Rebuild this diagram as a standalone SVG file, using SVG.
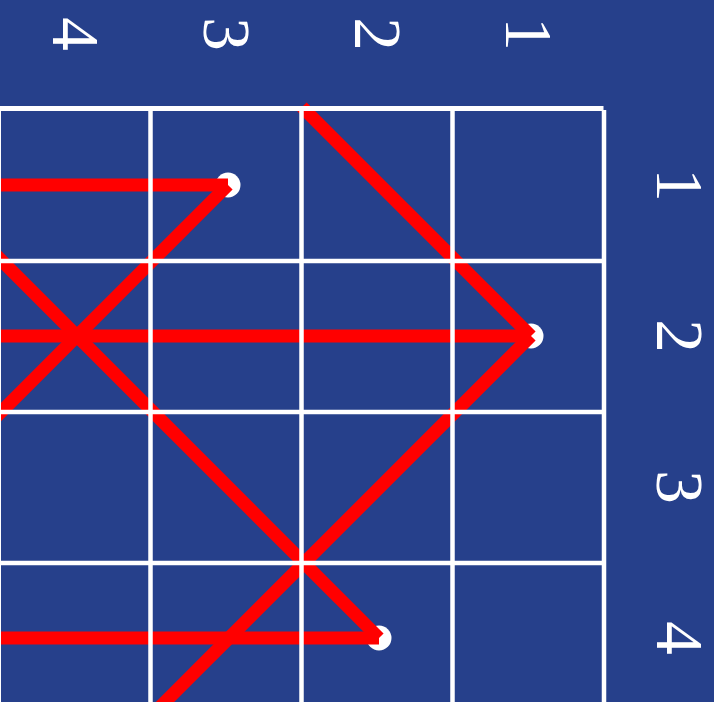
<svg xmlns="http://www.w3.org/2000/svg" width="714" height="702" viewBox="0 0 714 702">
  <style>
    .bg { fill: #26408b; }
    .dot { fill: #ffffff; }
    .edge { stroke: #ff0000; stroke-width: 13; stroke-linecap: butt; fill: none; }
    .grid { stroke: #ffffff; stroke-width: 4.5; fill: none; }
    .lbl { font-size: 67px; fill: #ffffff; text-anchor: middle; }
  </style>
  <rect class="bg" x="0" y="0" width="714" height="702"/>

  <g id="nodes">
    <g id="n1"><circle class="dot" cx="228" cy="185" r="12.5"/></g>
    <g id="n2"><circle class="dot" cx="531" cy="336" r="12.5"/></g>
    <g id="n3"><circle class="dot" cx="379" cy="638" r="12.5"/></g>
  </g>

  <g id="connectors">
    <line class="edge" x1="0" y1="185" x2="228" y2="185"/>
    <line class="edge" x1="228" y1="185" x2="-10" y2="423"/>
    <line class="edge" x1="0" y1="336" x2="531" y2="336"/>
    <line class="edge" x1="531" y1="336" x2="302" y2="107"/>
    <line class="edge" x1="531" y1="336" x2="150" y2="717"/>
    <line class="edge" x1="-10" y1="249" x2="379" y2="638"/>
    <line class="edge" x1="0" y1="638" x2="379" y2="638"/>
  </g>

  <g id="grid">
    <line class="grid" x1="-2" y1="108.5" x2="603.5" y2="108.5" style="stroke-width:5"/>
    <line class="grid" x1="0" y1="261" x2="604" y2="261"/>
    <line class="grid" x1="0" y1="412" x2="604" y2="412"/>
    <line class="grid" x1="0" y1="563" x2="604" y2="563"/>
    <line class="grid" x1="0" y1="110" x2="0" y2="702" style="stroke-width:2"/>
    <line class="grid" x1="150.5" y1="110" x2="150.5" y2="702"/>
    <line class="grid" x1="301.5" y1="110" x2="301.5" y2="702"/>
    <line class="grid" x1="452.5" y1="110" x2="452.5" y2="702"/>
    <line class="grid" x1="604" y1="110" x2="604" y2="702"/>
  </g>

  <g id="top-labels" font-family="'Liberation Serif', 'DejaVu Serif', serif">
    <text class="lbl" transform="translate(506,34) rotate(90)">1</text>
    <text class="lbl" transform="translate(355,34) rotate(90)">2</text>
    <text class="lbl" transform="translate(204,34) rotate(90)">3</text>
    <text class="lbl" transform="translate(53,34) rotate(90)">4</text>
  </g>
  <g id="right-labels" font-family="'Liberation Serif', 'DejaVu Serif', serif">
    <text class="lbl" transform="translate(657,185) rotate(90)">1</text>
    <text class="lbl" transform="translate(657,336) rotate(90)">2</text>
    <text class="lbl" transform="translate(657,487) rotate(90)">3</text>
    <text class="lbl" transform="translate(657,638) rotate(90)">4</text>
  </g>
</svg>
